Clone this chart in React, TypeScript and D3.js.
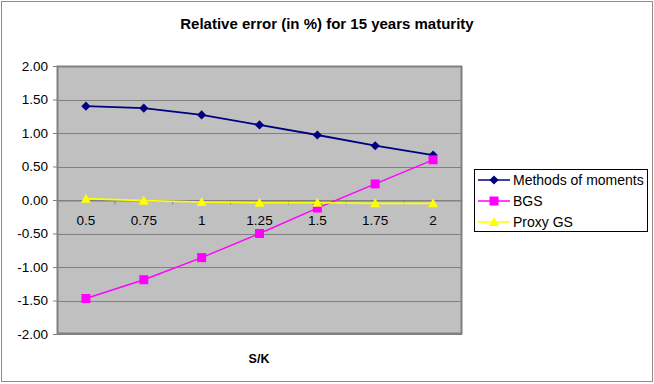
import React from "react";
import * as d3 from "d3";

const categories = ["0.5", "0.75", "1", "1.25", "1.5", "1.75", "2"];
const methodsOfMoments = [1.4, 1.37, 1.27, 1.12, 0.97, 0.81, 0.67];
const bgs = [-1.47, -1.19, -0.86, -0.5, -0.12, 0.24, 0.6];
const proxyGs = [0.02, -0.01, -0.03, -0.04, -0.04, -0.05, -0.05];
const yTicks = [-2, -1.5, -1, -0.5, 0, 0.5, 1, 1.5, 2];

const series = [
  { name: "Methods of moments", values: methodsOfMoments, color: "#000080", marker: "diamond", width: 1.8 },
  { name: "BGS", values: bgs, color: "#FF00FF", marker: "square", width: 1.4 },
  { name: "Proxy GS", values: proxyGs, color: "#FFFF00", marker: "triangle", width: 1.6 },
];

const W = 654;
const H = 384;
const plot = { left: 57, right: 462, top: 66, bottom: 334 };
const font = "'Liberation Sans', Arial, sans-serif";

// marker outlines drawn around (0,0)
function markerPath(kind: string) {
  if (kind === "diamond") return "M0,-4.6L4.6,0L0,4.6L-4.6,0Z";
  if (kind === "square") return "M-4.5,-4.5H4.5V4.5H-4.5Z";
  return "M0,-5L5,4L-5,4Z";
}

const App = () => {
  const svg = React.useRef<SVGSVGElement>(null);

  React.useEffect(() => {
    const root = d3.select(svg.current);
    root.selectAll("*").remove();

    const x = d3.scaleBand().domain(categories).range([plot.left, plot.right]);
    const y = d3.scaleLinear().domain([-2, 2]).range([plot.bottom, plot.top]);
    const cx = (c: string) => (x(c) as number) + x.bandwidth() / 2;

    // chart frame
    root.append("rect").attr("x", 1.5).attr("y", 1.5).attr("width", W - 3).attr("height", H - 4)
      .attr("fill", "#fff").attr("stroke", "#8c8c8c").attr("stroke-width", 1);

    root.append("text").attr("x", 327).attr("y", 29).attr("text-anchor", "middle")
      .attr("font-family", font).attr("font-size", 15).attr("font-weight", "bold")
      .text("Relative error (in %) for 15 years maturity");

    // plot area
    root.append("rect").attr("x", plot.left).attr("y", plot.top)
      .attr("width", plot.right - plot.left).attr("height", plot.bottom - plot.top)
      .attr("fill", "#C0C0C0");

    root.append("g").selectAll("line").data(yTicks).join("line")
      .attr("x1", plot.left).attr("x2", plot.right)
      .attr("y1", (d) => Math.round(y(d)) + 0.5).attr("y2", (d) => Math.round(y(d)) + 0.5)
      .attr("stroke", "#808080").attr("stroke-width", 1);

    root.append("rect").attr("x", plot.left + 0.5).attr("y", plot.top + 0.5)
      .attr("width", plot.right - plot.left - 1).attr("height", plot.bottom - plot.top - 1)
      .attr("fill", "none").attr("stroke", "#808080").attr("stroke-width", 2);

    // y axis
    const yAxis = d3.axisLeft(y).tickValues(yTicks).tickSize(4).tickPadding(5);
    const gy = root.append("g").attr("transform", `translate(${plot.left},0)`).call(yAxis);
    gy.select(".domain").attr("stroke", "#808080");
    gy.selectAll(".tick line").attr("stroke", "#808080");
    gy.selectAll("text").attr("font-family", font).attr("font-size", 13.5).attr("fill", "#000")
      .text((d: any) => d3.format(".2f")(d).replace("−", "-"));

    // x axis on zero line
    const xAxis = d3.axisBottom(x).tickSize(0).tickPadding(15);
    const gx = root.append("g").attr("transform", `translate(0,${Math.round(y(0)) + 0.5})`).call(xAxis);
    gx.select(".domain").attr("stroke", "#808080");
    gx.selectAll("text").attr("font-family", font).attr("font-size", 13.5).attr("fill", "#000");
    gx.selectAll(".minor").data(categories.slice(1)).join("line")
      .attr("x1", (c) => (x(c) as number)).attr("x2", (c) => (x(c) as number))
      .attr("y1", 0).attr("y2", 4).attr("stroke", "#808080");

    root.append("text").attr("x", 259).attr("y", 363).attr("text-anchor", "middle")
      .attr("font-family", font).attr("font-size", 12.5).attr("font-weight", "bold").text("S/K");

    // series
    const line = d3.line<number>().x((_, i) => cx(categories[i])).y((d) => y(d));
    series.forEach((s) => {
      root.append("path").datum(s.values).attr("d", line).attr("fill", "none")
        .attr("stroke", s.color).attr("stroke-width", s.width);
      root.append("g").selectAll("path").data(s.values).join("path")
        .attr("d", markerPath(s.marker))
        .attr("transform", (d, i) => `translate(${cx(categories[i])},${y(d)})`)
        .attr("fill", s.color);
    });

    // legend
    root.append("rect").attr("x", 474.5).attr("y", 169.5).attr("width", 173).attr("height", 62)
      .attr("fill", "#fff").attr("stroke", "#000").attr("stroke-width", 1);
    series.forEach((s, i) => {
      const ly = 180 + i * 21;
      root.append("line").attr("x1", 478).attr("x2", 510).attr("y1", ly).attr("y2", ly)
        .attr("stroke", s.color).attr("stroke-width", 1.5);
      root.append("path").attr("d", markerPath(s.marker))
        .attr("transform", `translate(494,${ly})`).attr("fill", s.color);
      root.append("text").attr("x", 513).attr("y", ly + 5).attr("font-family", font)
        .attr("font-size", 14).text(s.name);
    });
  }, []);

  return (
    <div>
      <svg ref={svg} width={W} height={H} style={{ position: "absolute", left: 0, top: 0 }} />
    </div>
  );
};

export default App;
